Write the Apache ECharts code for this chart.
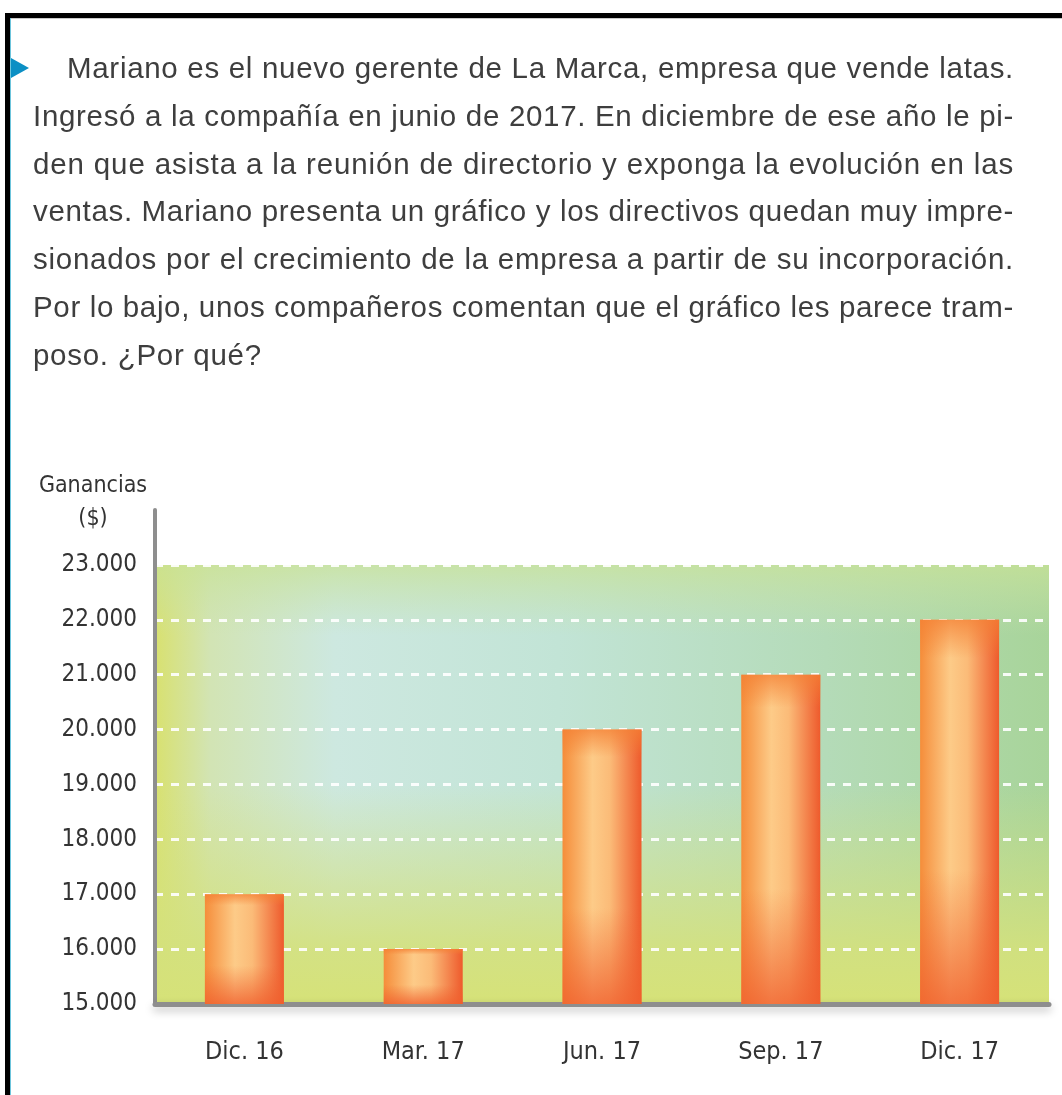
<!DOCTYPE html>
<html>
<head>
<meta charset="utf-8">
<script src="https://cdn.jsdelivr.net/npm/echarts@6/dist/echarts.min.js"></script>
<style>
  html, body { margin: 0; padding: 0; background: #fff; }
  body { width: 1062px; height: 1095px; position: relative; overflow: hidden; }
  #chart { position: absolute; left: 0; top: 0; width: 1062px; height: 1095px; }
  .frame-top { position: absolute; left: 5px; top: 13px; right: 0; height: 5px; background: #000; }
  .frame-top-shade { position: absolute; left: 10px; top: 18px; right: 0; height: 1px; background: #c8c8c8; }
  .frame-left { position: absolute; left: 5px; top: 13px; width: 5px; bottom: 0; background: #000; }
  .frame-left-blue { position: absolute; left: 10px; top: 18px; width: 1px; bottom: 0; background: #6cc4dc; }
  .marker { position: absolute; left: 11px; top: 58px; width: 0; height: 0;
    border-top: 10px solid transparent; border-bottom: 10px solid transparent; border-left: 18px solid #0b8fc4; }
  #text { position: absolute; left: 0; top: 44px; font-family: 'Liberation Sans', Arial, sans-serif;
    font-size: 29.5px; line-height: 47.8px; color: #3e3e3e; }
  #text .line { position: absolute; white-space: nowrap; }
</style>
</head>
<body>
<div id="chart"></div>
<div class="frame-top"></div>
<div class="frame-top-shade"></div>
<div class="frame-left"></div>
<div class="frame-left-blue"></div>
<div class="marker"></div>
<div id="text"></div>
<script>
// problem statement, one entry per printed line
const textLines = [
  'Mariano es el nuevo gerente de La Marca, empresa que vende latas.',
  'Ingresó a la compañía en junio de 2017. En diciembre de ese año le pi-',
  'den que asista a la reunión de directorio y exponga la evolución en las',
  'ventas. Mariano presenta un gráfico y los directivos quedan muy impre-',
  'sionados por el crecimiento de la empresa a partir de su incorporación.',
  'Por lo bajo, unos compañeros comentan que el gráfico les parece tram-',
  'poso. ¿Por qué?'
]

const periods = ['Dic. 16', 'Mar. 17', 'Jun. 17', 'Sep. 17', 'Dic. 17']
const ganancias = [17000, 16000, 20000, 21000, 22000]
const yMin = 15000
const yTop = 23000

const narrow = "'Liberation Sans Narrow', 'DejaVu Sans Condensed', 'Noto Sans', sans-serif"

// paragraph: justified line by line, slack spread over the letters
const textBox = document.getElementById('text')
let trackSum = 0
textLines.forEach((str, i) => {
  const el = document.createElement('span')
  el.className = 'line'
  el.textContent = str
  const left = i === 0 ? 67 : 33
  el.style.left = left + 'px'
  el.style.top = (i * 47.8) + 'px'
  textBox.appendChild(el)
  const last = i === textLines.length - 1
  if (!last) {
    const target = 1014 - left
    const w = el.getBoundingClientRect().width
    const track = (target - w) / str.length
    trackSum += track
    el.style.letterSpacing = track + 'px'
    const w2 = el.getBoundingClientRect().width
    const spaces = str.split(' ').length - 1
    el.style.wordSpacing = ((target - w2) / spaces) + 'px'
  } else {
    el.style.letterSpacing = (trackSum / (textLines.length - 1)) + 'px'
  }
})

function fmtMiles(v) {
  return String(v).replace(/\B(?=(\d{3})+(?!\d))/g, '.')
}

const chart = echarts.init(document.getElementById('chart'))

const barFill = new echarts.graphic.LinearGradient(0, 0, 1, 0, [
  { offset: 0, color: '#f58d3a' },
  { offset: 0.38, color: '#fdcb88' },
  { offset: 0.6, color: '#fbbb78' },
  { offset: 1, color: '#ee5a2c' }
])
const barShade = new echarts.graphic.LinearGradient(0, 0, 0, 1, [
  { offset: 0, color: 'rgba(244,128,52,0.75)' },
  { offset: 0.1, color: 'rgba(244,128,52,0)' },
  { offset: 0.65, color: 'rgba(240,100,48,0)' },
  { offset: 1, color: 'rgba(240,96,46,0.8)' }
])

chart.setOption({
  animation: false,
  grid: { left: 155, right: 13, top: 510, bottom: 91 },
  xAxis: {
    type: 'category',
    data: periods,
    axisLine: {
      lineStyle: { color: '#8e8e8e', width: 5, shadowBlur: 8, shadowColor: 'rgba(0,0,0,0.25)', shadowOffsetY: 4 }
    },
    axisTick: { show: false },
    axisLabel: { color: '#333', fontSize: 25, fontFamily: narrow, margin: 36 }
  },
  yAxis: {
    type: 'value',
    min: yMin,
    max: 24000,
    interval: 1000,
    name: 'Ganancias\n($)',
    nameLocation: 'end',
    nameGap: -26,
    nameTextStyle: {
      color: '#333', fontSize: 23, fontFamily: narrow, lineHeight: 33,
      align: 'center', verticalAlign: 'bottom', padding: [0, 124, 0, 0]
    },
    axisLine: { show: true, lineStyle: { color: '#8e8e8e', width: 4 } },
    axisTick: { show: false },
    axisLabel: {
      color: '#333', fontSize: 24, fontFamily: narrow, margin: 18,
      padding: [0, 0, 10, 0],
      formatter: v => (v > yTop ? '' : fmtMiles(v))
    },
    splitLine: {
      show: true,
      showMinLine: false,
      showMaxLine: false,
      lineStyle: { color: 'rgba(255,255,255,0.9)', width: 3, type: [8, 8] }
    }
  },
  series: [
    {
      type: 'bar',
      data: ganancias,
      barWidth: 79,
      itemStyle: {
        color: barFill,
        shadowBlur: 14,
        shadowColor: 'rgba(50,80,40,0.45)'
      }
    },
    {
      type: 'bar',
      data: ganancias,
      barWidth: 79,
      barGap: '-100%',
      silent: true,
      z: 3,
      itemStyle: { color: barShade }
    }
  ]
})

// plot background from 15.000 to 23.000
const y0 = chart.convertToPixel({ yAxisIndex: 0 }, yMin)
const y1 = chart.convertToPixel({ yAxisIndex: 0 }, yTop)
const x0 = 157
const x1 = 1062 - 13
chart.setOption({
  graphic: [
    {
      type: 'rect', z: -2, silent: true,
      shape: { x: x0, y: y1, width: x1 - x0, height: y0 - y1 },
      style: {
        fill: new echarts.graphic.LinearGradient(0, 0, 1, 0, [
          { offset: 0, color: '#d8e172' },
          { offset: 0.06, color: '#d2e4b4' },
          { offset: 0.2, color: '#cde8e0' },
          { offset: 0.45, color: '#c2e4d6' },
          { offset: 0.75, color: '#b4dbb8' },
          { offset: 1, color: '#a8d49a' }
        ])
      }
    },
    {
      type: 'rect', z: -1, silent: true,
      shape: { x: x0, y: y1, width: x1 - x0, height: y0 - y1 },
      style: {
        fill: new echarts.graphic.LinearGradient(0, 0, 0, 1, [
          { offset: 0, color: 'rgba(200,226,150,0.75)' },
          { offset: 0.16, color: 'rgba(200,226,170,0)' },
          { offset: 0.5, color: 'rgba(212,225,124,0)' },
          { offset: 0.88, color: 'rgba(212,225,124,0.92)' },
          { offset: 1, color: 'rgba(214,226,120,1)' }
        ])
      }
    }
  ]
})

window.addEventListener('resize', () => chart.resize())
</script>
</body>
</html>
